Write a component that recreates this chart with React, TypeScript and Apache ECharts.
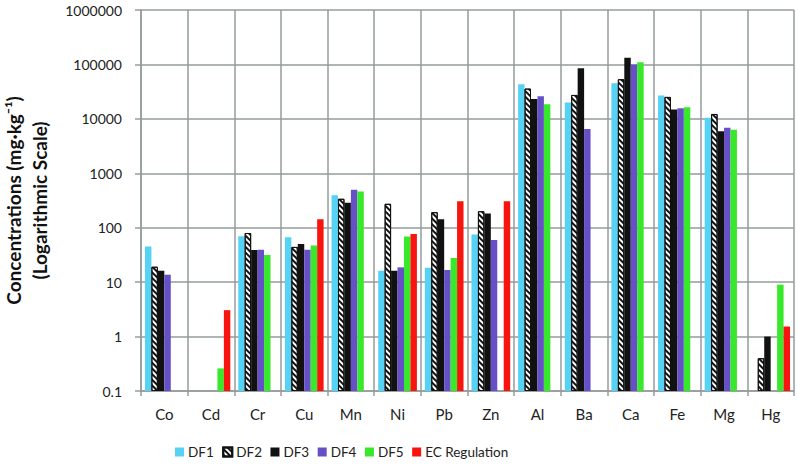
import React, { useEffect, useRef } from "react";
import * as echarts from "echarts";

const categories = ["Co", "Cd", "Cr", "Cu", "Mn", "Ni", "Pb", "Zn", "Al", "Ba", "Ca", "Fe", "Mg", "Hg"];
const df1 = [45, null, 70, 67, 396, 16.2, 18.4, 75, 43300, 19900, 45200, 26800, 10500, null];
const df2 = [19.2, null, 80, 44.4, 340, 275, 193, 201, 36000, 27500, 53500, 25300, 12300, 0.4];
const df3 = [16.2, null, 39, 50.4, 286, 16.2, 143, 182, 23200, 85300, 132000, 14800, 5900, 1];
const df4 = [13.7, null, 39.5, 39.5, 498, 18.7, 16.7, 59.7, 26000, 6500, 99800, 15600, 6900, null];
const df5 = [null, 0.26, 31.6, 46.9, 463, 68.7, 27.8, null, 18500, null, 110000, 16300, 6340, 9];
const ecReg = [null, 3.06, null, 143, null, 77, 307, 307, null, null, null, null, null, 1.53];
const seriesNames = ["DF1", "DF2", "DF3", "DF4", "DF5", "EC Regulation"];
const yTickLabels = ["0.1", "1", "10", "100", "1000", "10000", "100000", "1000000"];

const FONT = "Lato, 'Open Sans', sans-serif";
const GRID = "#959b9b";
const LOG_MIN = 0.1;

// bars are drawn on a logarithmic scale whose bottom is 0.1 (decades above 0.1)
const toLog = (v: number | null) => (v == null ? null : Math.log10(v / LOG_MIN));

export default function App() {
  const ref = useRef<HTMLDivElement>(null);
  useEffect(() => {
    if (!ref.current) return;
    const chart = echarts.init(ref.current, undefined, { renderer: "svg" });
    const colors = ["#56d2f4", "#ffffff", "#111111", "#6650c8", "#38e82a", "#f8140f"];
    const data = [df1, df2, df3, df4, df5, ecReg];
    const series = seriesNames.map((name, i) => {
      const s: any = {
        name,
        type: "bar",
        data: data[i].map(toLog),
        barGap: "0%",
        barCategoryGap: "17%",
        itemStyle: { color: colors[i] },
      };
      if (i === 1) {
        s.itemStyle = {
          color: "#ffffff",
          borderColor: "#111111",
          borderWidth: 1,
          decal: {
            symbol: "rect",
            color: "#111111",
            backgroundColor: "#ffffff",
            dashArrayX: [1, 0],
            dashArrayY: [2, 2],
            rotation: Math.PI / 4,
          },
        };
      }
      return s;
    });
    chart.setOption({
      animation: false,
      textStyle: { fontFamily: FONT },
      color: colors,
      grid: { left: 141, right: 4, top: 10, bottom: 74, outerBoundsMode: "none", containLabel: false },
      legend: {
        left: 175,
        top: 445,
        padding: 0,
        itemWidth: 9,
        itemHeight: 9,
        itemGap: 8.5,
        icon: "rect",
        textStyle: { fontSize: 13.5, color: "#222", fontFamily: FONT, padding: [0, 0, 0, -1] },
        data: seriesNames,
      },
      xAxis: {
        type: "category",
        data: categories,
        axisLine: { lineStyle: { color: GRID, width: 1.5 } },
        axisTick: { show: true, length: 5, lineStyle: { color: GRID, width: 1.5 } },
        splitLine: { show: true, lineStyle: { color: GRID, width: 1.5 } },
        axisLabel: { fontSize: 15, color: "#222", margin: 15, interval: 0, fontFamily: FONT },
      },
      yAxis: {
        type: "value",
        min: 0,
        max: yTickLabels.length - 1,
        interval: 1,
        name: "Concentrations (mg·kg⁻¹)\n(Logarithmic Scale)",
        nameLocation: "middle",
        nameGap: 89,
        nameTextStyle: { fontSize: 19, fontWeight: "bold", color: "#111", lineHeight: 26, fontFamily: FONT },
        axisLine: { show: true, lineStyle: { color: GRID, width: 1.5 } },
        axisTick: { show: true, length: 6, lineStyle: { color: GRID, width: 1.5 } },
        splitLine: { show: true, lineStyle: { color: GRID, width: 1.5 } },
        axisLabel: {
          fontSize: 14,
          color: "#222",
          margin: 19,
          fontFamily: FONT,
          formatter: (v: number) => yTickLabels[Math.round(v)] ?? "",
        },
      },
      series,
    });
    return () => chart.dispose();
  }, []);
  return <div ref={ref} style={{ width: 798, height: 465, position: "absolute", left: 0, top: 0 }} />;
}
